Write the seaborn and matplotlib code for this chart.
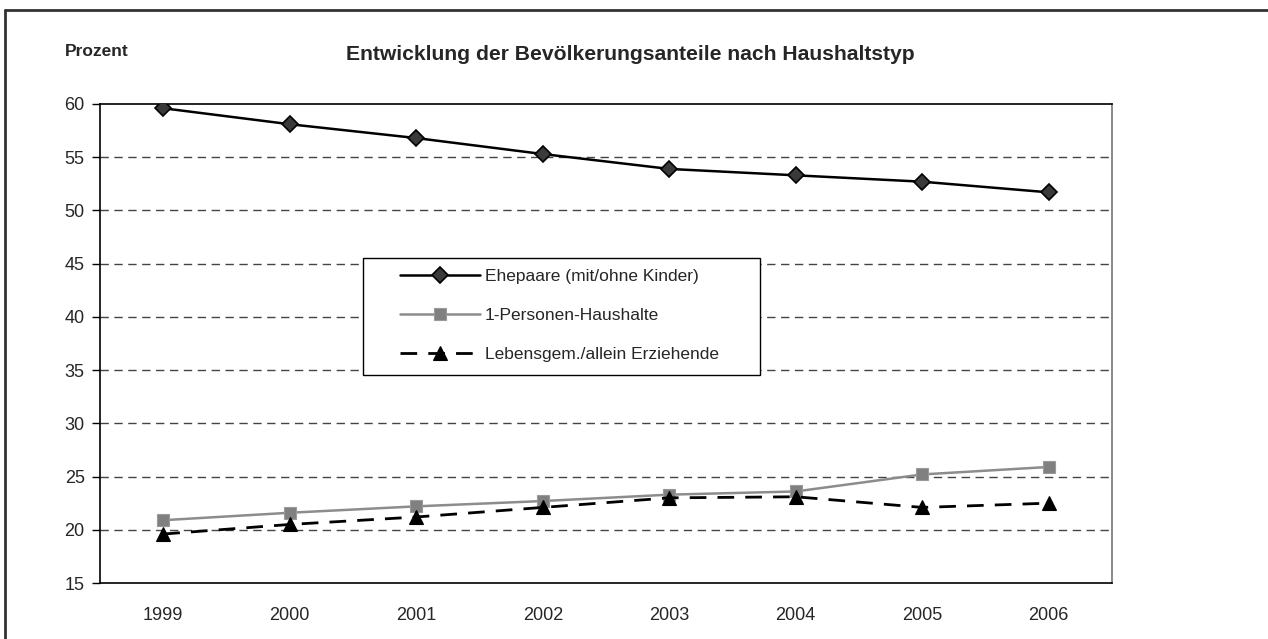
import matplotlib
matplotlib.use("Agg")
import matplotlib.pyplot as plt
import seaborn as sns
import pandas as pd
import numpy as np
from matplotlib.lines import Line2D
from matplotlib.patches import Rectangle

years = ["1999", "2000", "2001", "2002", "2003", "2004", "2005", "2006"]
ehepaare = [59.6, 58.1, 56.8, 55.3, 53.9, 53.3, 52.7, 51.7]
personen1 = [20.9, 21.6, 22.2, 22.7, 23.3, 23.6, 25.2, 25.9]
lebensgem = [19.6, 20.5, 21.2, 22.1, 23.0, 23.1, 22.1, 22.5]
series_names = ["Ehepaare (mit/ohne Kinder)", "1-Personen-Haushalte", "Lebensgem./allein Erziehende"]
y_ticks = [15, 20, 25, 30, 35, 40, 45, 50, 55, 60]

sns.set_style("white")
plt.rcParams['font.family'] = ['Liberation Sans', 'DejaVu Sans']

W, H = 1268, 639
fig = plt.figure(figsize=(W / 100, H / 100), dpi=100)
ax = fig.add_axes([100 / W, 1 - 583 / H, 1012 / W, 479 / H])

idx = np.arange(len(years))
df = pd.DataFrame({"x": np.tile(idx, 3),
                   "y": ehepaare + personen1 + lebensgem,
                   "s": np.repeat(series_names, len(years))})

styles = [
    dict(color="black", lw=1.8, ls="-", marker="D", ms=8, mfc="#3a3a3a", mec="black", mew=1.2),
    dict(color="#8c8c8c", lw=1.8, ls="-", marker="s", ms=8, mfc="#808080", mec="#9a9a9a", mew=0.8),
    dict(color="black", lw=2.0, ls=(0, (6, 4)), marker="^", ms=10, mfc="black", mec="black", mew=0.8),
]
for name, st in zip(series_names, styles):
    sub = df[df["s"] == name]
    sns.lineplot(data=sub, x="x", y="y", ax=ax, label=name,
                 color=st["color"], linewidth=st["lw"], linestyle=st["ls"],
                 marker=st["marker"], markersize=st["ms"],
                 markerfacecolor=st["mfc"], markeredgecolor=st["mec"],
                 markeredgewidth=st["mew"], zorder=3)

ax.set_xlim(-0.5, len(years) - 0.5)
ax.set_ylim(15, 60)
ax.set_yticks(y_ticks)
ax.set_yticklabels([str(v) for v in y_ticks], fontsize=13)
ax.set_xticks(idx)
ax.set_xticklabels(years, fontsize=13)
ax.set_xticks(np.arange(-0.5, len(years)), minor=True)
ax.tick_params(axis="x", which="major", length=0, pad=17)
ax.tick_params(axis="x", which="minor", length=8, width=1, direction="out", color="black")
ax.tick_params(axis="y", which="major", length=6, width=1, direction="out", color="black", left=True, pad=5)
ax.set_xlabel("")
ax.set_ylabel("")

for v in y_ticks[1:-1]:
    ax.axhline(v, color="#444444", lw=1, ls=(0, (6, 4)), zorder=1)

for side in ["left", "bottom", "top"]:
    ax.spines[side].set_visible(True)
    ax.spines[side].set_color("black")
    ax.spines[side].set_linewidth(1.2)
ax.spines["right"].set_visible(True)
ax.spines["right"].set_color("#777777")
ax.spines["right"].set_linewidth(1.2)

# legend frame (Excel-style wide box) and frameless legend inside it
ax.add_patch(Rectangle((363 / W, 1 - 375 / H), 397 / W, 117 / H, transform=fig.transFigure,
                       facecolor="white", edgecolor="black", lw=1.0, zorder=4, clip_on=False))
leg = ax.legend(loc="upper left", bbox_to_anchor=(400 / W, 1 - 269 / H),
                bbox_transform=fig.transFigure, frameon=False, fontsize=12.5,
                handlelength=4.6, numpoints=1, labelspacing=1.36, borderpad=0,
                borderaxespad=0, handletextpad=0.3)
leg.set_zorder(5)

fig.text(630 / W, 1 - 54 / H, "Entwicklung der Bevölkerungsanteile nach Haushaltstyp",
         ha="center", va="center", fontsize=15.2, fontweight="bold")
fig.text(97 / W, 1 - 51 / H, "Prozent", ha="center", va="center", fontsize=12.5, fontweight="bold")

fig.lines.append(Line2D([5 / W, 1.0], [1 - 10 / H, 1 - 10 / H], transform=fig.transFigure,
                        color="#333333", lw=2))
fig.lines.append(Line2D([5 / W, 5 / W], [0.0, 1 - 10 / H], transform=fig.transFigure,
                        color="#333333", lw=2))

fig.savefig("out.png", dpi=100)
